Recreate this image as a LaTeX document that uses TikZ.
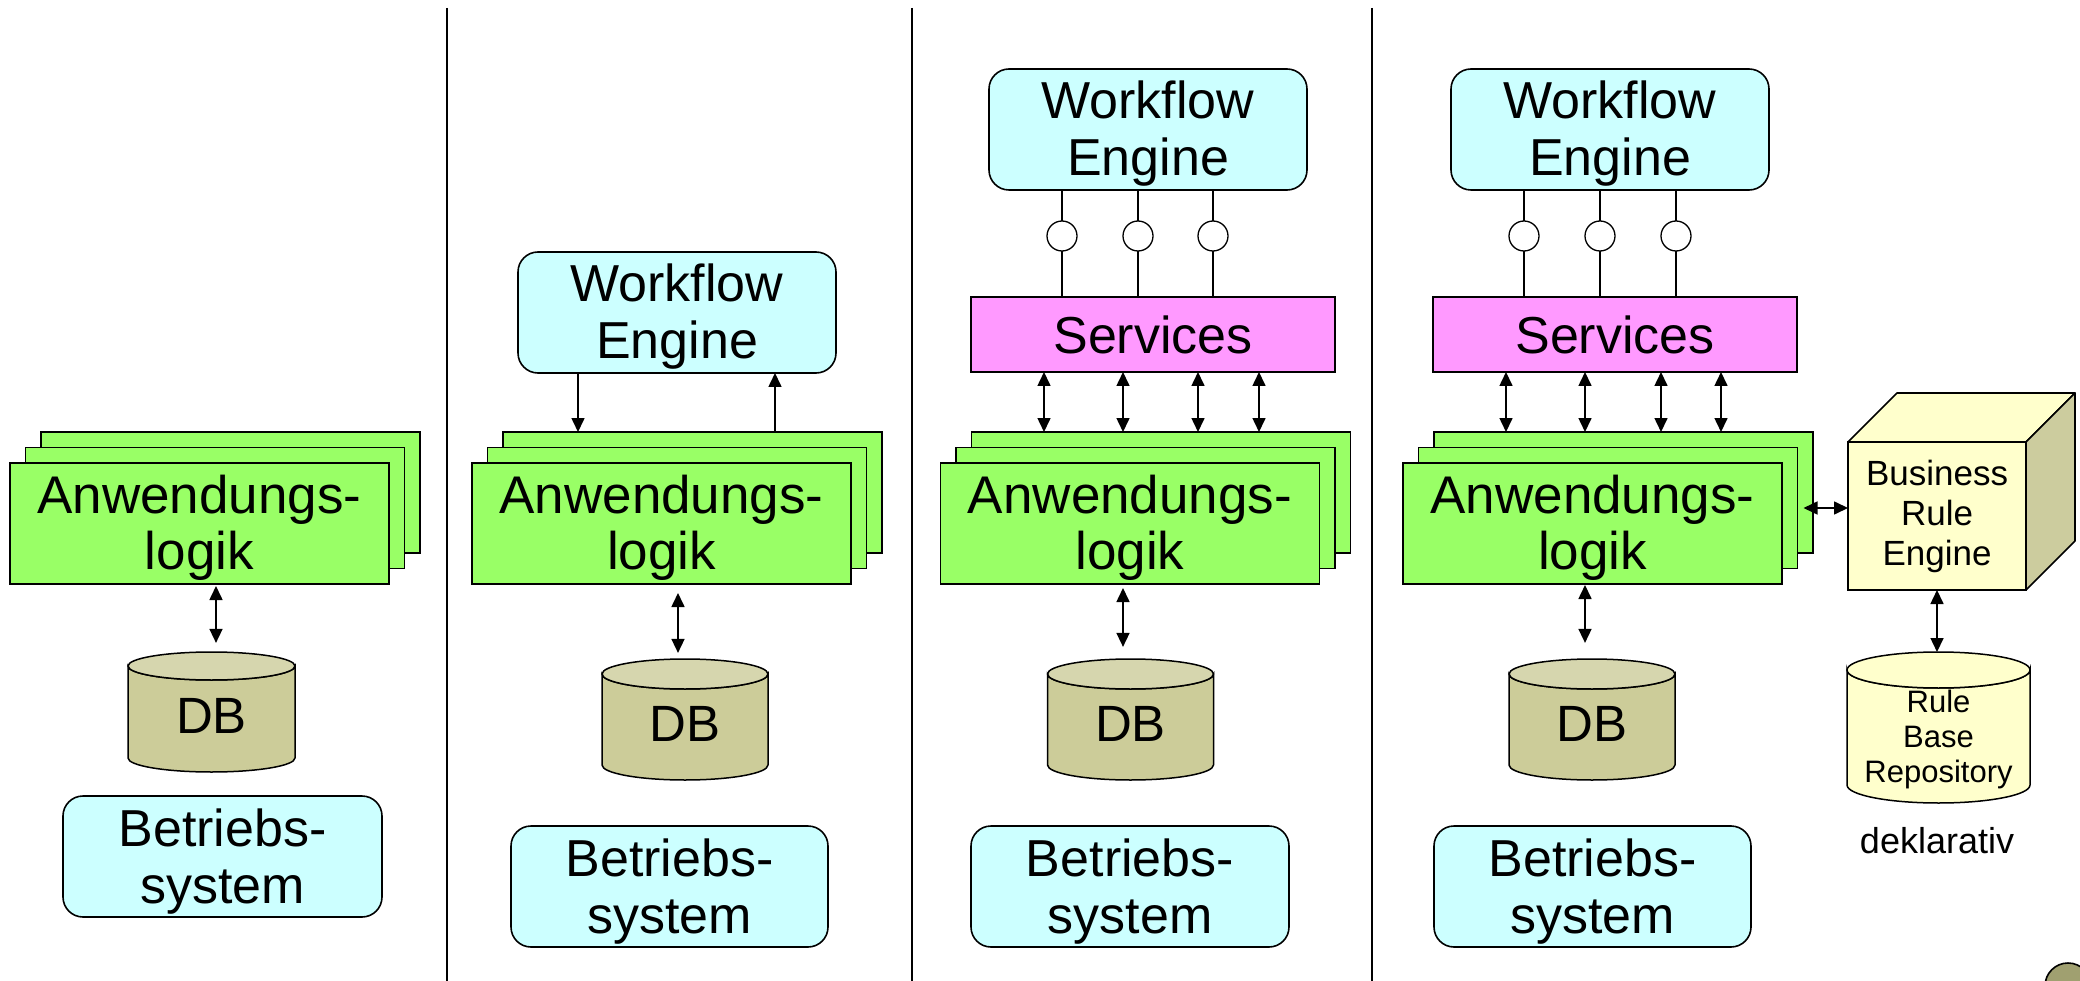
\documentclass[tikz,border=0pt]{standalone}
\usepackage{fontspec}
\setmainfont{Liberation Sans}
\usetikzlibrary{arrows.meta,calc}
\definecolor{logicgreen}{HTML}{99FF66}
\definecolor{oscyan}{HTML}{CCFFFF}
\definecolor{svcpink}{HTML}{FF99FF}
\definecolor{dbbody}{HTML}{CCCC99}
\definecolor{dbtop}{HTML}{D6D6AE}
\definecolor{ruleyellow}{HTML}{FFFFCC}
\definecolor{cubeside}{HTML}{CCCC9E}
\definecolor{olivedot}{HTML}{A0A070}
\newcommand{\drawcyl}[7]{%
  \filldraw[cylline, fill=#7] (#1-#4,#2) -- (#1-#4,#3)
    arc[start angle=180,end angle=0,x radius=#4,y radius=#5]
    -- (#1+#4,#2)
    arc[start angle=0,end angle=180,x radius=#4,y radius=#5] -- cycle;
  \filldraw[cylline, fill=#6] (#1,#2) ellipse[x radius=#4, y radius=#5];
}
\tikzset{
  boxbase/.style={draw=black, line width=1.6pt, inner sep=0pt, outer sep=0pt, align=center},
  logic/.style={boxbase, fill=logicgreen, minimum width=379pt, minimum height=121pt},
  osbox/.style={boxbase, fill=oscyan, rounded corners=20pt, minimum width=318pt, minimum height=121pt},
  wfbox/.style={boxbase, fill=oscyan, rounded corners=20pt, minimum width=318pt, minimum height=121pt},
  svcbox/.style={boxbase, fill=svcpink, minimum width=364pt, minimum height=75pt,
    font=\fontsize{52}{58}\selectfont},
  bigtext/.style={inner sep=0pt, outer sep=0pt, align=center, font=\fontsize{52}{57}\selectfont},
  logictext/.style={inner sep=0pt, outer sep=0pt, align=center, font=\fontsize{53}{56}\selectfont},
  cylline/.style={draw=black, line width=1.5pt},
  dblabel/.style={inner sep=0pt, outer sep=0pt, minimum width=166pt, font=\fontsize{51}{56}\selectfont},
  lolli/.style={circle, draw=black, fill=white, line width=1.3pt, minimum size=30pt, inner sep=0pt, outer sep=0pt},
  stem/.style={draw=black, line width=1.3pt},
  sepline/.style={draw=black, line width=1.8pt},
  dbl/.style={line width=1.6pt, {Triangle[length=14pt,width=13pt]}-{Triangle[length=14pt,width=13pt]}},
  sgl/.style={line width=1.6pt, -{Triangle[length=14pt,width=13pt]}},
}
\begin{document}
\begin{tikzpicture}[x=1pt,y=-1pt]
\useasboundingbox (0,0) rectangle (2080,981);
\fill[white] (0,0) rectangle (2080,981);

% separators
\draw[sepline] (447,8) -- (447,981);
\draw[sepline] (912,8) -- (912,981);
\draw[sepline] (1372,8) -- (1372,981);

% ---------- Panel 1 ----------
\node[logic] (a1b) at (230.5,492.5) {};
\node[logic] (a1m) at (215,508) {};
\node[logic] (a1f) at (199.5,523.5) {};
\node[logictext] (a1t) at ($(a1f.center)+(0,4)$) {Anwendungs-\\logik};
\drawcyl{211.5}{666}{758}{83.5}{14}{dbtop}{dbbody}
\node[dblabel, minimum height=129pt] (db1) at (211.5,716.4) {DB};
\node[osbox, minimum width=319pt] (os1) at (222.5,856.5) {};
\node[bigtext] (os1t) at ($(os1.center)+(0,5)$) {Betriebs-\\system};
\draw[dbl, shorten <=2pt, shorten >=9pt] ([xshift=4.5pt]db1.north |- a1f.south) -- ([xshift=4.5pt]db1.north);

% ---------- Panel 2 ----------
\node[wfbox] (we2) at (677,312.5) {};
\node[bigtext] (we2t) at ($(we2.center)+(0,4)$) {Workflow\\Engine};
\node[logic] (a2b) at (692.5,492.5) {};
\node[logic] (a2m) at (677,508) {};
\node[logic] (a2f) at (661.5,523.5) {};
\node[logictext] (a2t) at ($(a2f.center)+(0,4)$) {Anwendungs-\\logik};
\drawcyl{685}{674}{765}{83}{15}{dbtop}{dbbody}
\node[dblabel, minimum height=131pt] (db2) at (685,724.4) {DB};
\node[osbox, minimum width=317pt] (os2) at (669.5,886.5) {};
\node[bigtext] (os2t) at ($(os2.center)+(0,5)$) {Betriebs-\\system};
\draw[sgl] ([xshift=-99pt]we2.south) -- ([xshift=-99pt]we2.south |- a2b.north);
\draw[sgl] ([xshift=98pt]we2.south |- a2b.north) -- ([xshift=98pt]we2.south);
\draw[dbl, shorten <=9pt, shorten >=6pt] ([xshift=-7pt]db2.north |- a2f.south) -- ([xshift=-7pt]db2.north);

% ---------- Panel 3 ----------
\node[wfbox] (we3) at (1148,129.5) {};
\node[bigtext] (we3t) at ($(we3.center)+(0,4)$) {Workflow\\Engine};
\node[svcbox] (sv3) at (1153,334.5) {Services};
\foreach \lx/\nm in {1062/l31,1138/l32,1213/l33}{
  \node[lolli] (\nm) at (\lx,236) {};
  \draw[stem] (\nm.north |- we3.south) -- (\nm.north);
  \draw[stem] (\nm.south) -- (\nm.south |- sv3.north);
}
\node[logic] (a3b) at (1161,492.5) {};
\node[logic] (a3m) at (1145.5,508) {};
\node[logic] (a3f) at (1130,523.5) {};
\node[logictext] (a3t) at ($(a3f.center)+(0,4)$) {Anwendungs-\\logik};
\foreach \dx in {-109,-30,45,106}{
  \draw[dbl] ([xshift=\dx pt]sv3.south) -- ([xshift=\dx pt]sv3.south |- a3b.north);
}
\drawcyl{1130.5}{674}{765}{83}{15}{dbtop}{dbbody}
\node[dblabel, minimum height=131pt] (db3) at (1130.5,724.4) {DB};
\node[osbox, minimum width=318pt] (os3) at (1130,886.5) {};
\node[bigtext] (os3t) at ($(os3.center)+(0,5)$) {Betriebs-\\system};
\draw[dbl, shorten <=4pt, shorten >=12pt] ([xshift=-7.5pt]db3.north |- a3f.south) -- ([xshift=-7.5pt]db3.north);

% ---------- Panel 4 ----------
\node[wfbox] (we4) at (1610,129.5) {};
\node[bigtext] (we4t) at ($(we4.center)+(0,4)$) {Workflow\\Engine};
\node[svcbox] (sv4) at (1615,334.5) {Services};
\foreach \lx/\nm in {1524/l41,1600/l42,1676/l43}{
  \node[lolli] (\nm) at (\lx,236) {};
  \draw[stem] (\nm.north |- we4.south) -- (\nm.north);
  \draw[stem] (\nm.south) -- (\nm.south |- sv4.north);
}
\node[logic] (a4b) at (1623.5,492.5) {};
\node[logic] (a4m) at (1608,508) {};
\node[logic] (a4f) at (1592.5,523.5) {};
\node[logictext] (a4t) at ($(a4f.center)+(0,4)$) {Anwendungs-\\logik};
\foreach \dx in {-109,-30,46,106}{
  \draw[dbl] ([xshift=\dx pt]sv4.south) -- ([xshift=\dx pt]sv4.south |- a4b.north);
}
\drawcyl{1592}{674}{765}{83}{15}{dbtop}{dbbody}
\node[dblabel, minimum height=131pt] (db4) at (1592,724.4) {DB};
\node[osbox, minimum width=317pt] (os4) at (1592.5,886.5) {};
\node[bigtext] (os4t) at ($(os4.center)+(0,5)$) {Betriebs-\\system};
\draw[dbl, shorten <=1pt, shorten >=16pt] ([xshift=-7pt]db4.north |- a4f.south) -- ([xshift=-7pt]db4.north);

% Business Rule Engine cube
\node[boxbase, fill=ruleyellow, minimum width=178pt, minimum height=148pt,
      font=\fontsize{35}{40}\selectfont] (bre) at (1937,516) {Business\\Rule\\Engine};
\filldraw[draw=black, line width=1.6pt, line join=round, fill=ruleyellow]
  (bre.north west) -- ++(49,-49) -- ++(178,0) -- (bre.north east) -- cycle;
\filldraw[draw=black, line width=1.6pt, line join=round, fill=cubeside]
  (bre.north east) -- ++(49,-49) -- ++(0,148) -- (bre.south east) -- cycle;
\draw[dbl, shorten <=6pt] (a4m.east) -- (bre.west |- a4m.east);

% Rule Base Repository
\drawcyl{1938.5}{670}{785}{91.5}{18}{ruleyellow}{ruleyellow}
\node[inner sep=0pt, outer sep=0pt, minimum width=183pt, minimum height=174pt,
      align=center, font=\fontsize{31}{35}\selectfont] (rbr) at (1938.5,739) {Rule\\Base\\Repository};
\draw[dbl] (bre.south) -- (bre.south |- rbr.north);
\node[anchor=base, inner sep=0pt, font=\fontsize{36}{40}\selectfont] (dekl) at (1937,853) {deklarativ};

% corner decoration
\filldraw[draw=black, line width=1.6pt, fill=olivedot] (2068,986) circle[radius=23];
\end{tikzpicture}
\end{document}
